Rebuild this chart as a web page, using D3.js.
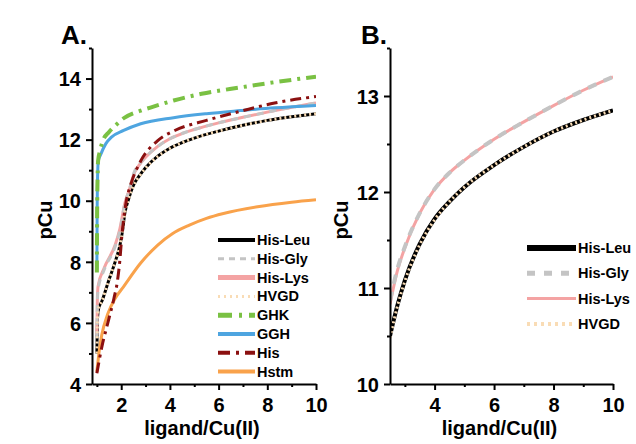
<!DOCTYPE html>
<html>
<head>
<meta charset="utf-8">
<script src="https://cdn.jsdelivr.net/npm/d3@7"></script>
<style>
  body { margin: 0; background: #fff; }
  svg { font-family: "Liberation Sans", Arial, sans-serif; font-weight: bold; }
  .axis path, .axis line { stroke: #000; stroke-width: 2; }
  .axis text { font-size: 20px; font-weight: bold; fill: #000; }
</style>
</head>
<body>
<script>
// pCu vs ligand/Cu(II), points as [ratio, pCu]
const hisLeu = [[1,5.0],[1.03,6.2],[1.08,6.5],[1.2,6.7],[1.45,7.3],[1.75,8.0],[1.95,8.55],[2.05,9.0],[2.15,9.6],[2.3,10.05],[2.5,10.5],[2.75,10.82],[3.0,11.08],[3.5,11.46],[4.0,11.72],[4.5,11.9],[5.0,12.05],[6.0,12.28],[7.0,12.47],[8.0,12.63],[9.0,12.75],[10,12.85]];
const hisGly = [[1,5.5],[1.02,6.6],[1.05,7.1],[1.3,7.74],[1.75,8.5],[1.95,9.05],[2.15,9.9],[2.35,10.4],[2.5,10.87],[2.75,11.2],[3.0,11.43],[3.5,11.78],[4.0,12.03],[4.5,12.2],[5.0,12.33],[6.0,12.55],[7.0,12.73],[8.0,12.9],[9.0,13.06],[10,13.2]];
const hisLys = [[1,5.6],[1.02,6.8],[1.05,7.2],[1.3,7.8],[1.75,8.55],[1.95,9.1],[2.15,9.92],[2.35,10.4],[2.5,10.83],[2.75,11.18],[3.0,11.42],[3.5,11.78],[4.0,12.03],[4.5,12.2],[5.0,12.33],[6.0,12.55],[7.0,12.73],[8.0,12.9],[9.0,13.06],[10,13.2]];
const hvgd = [[1,5.0],[1.03,6.2],[1.08,6.5],[1.2,6.7],[1.45,7.3],[1.75,8.0],[1.95,8.55],[2.05,9.0],[2.15,9.6],[2.3,10.05],[2.5,10.48],[2.75,10.81],[3.0,11.07],[3.5,11.45],[4.0,11.71],[4.5,11.9],[5.0,12.05],[6.0,12.28],[7.0,12.47],[8.0,12.63],[9.0,12.75],[10,12.85]];
const ghk = [[1,7.65],[1.01,9.5],[1.03,10.8],[1.05,11.3],[1.13,11.64],[1.25,11.97],[1.5,12.25],[1.8,12.49],[2.1,12.7],[2.8,12.95],[3.2,13.05],[4.15,13.28],[5.3,13.5],[6.9,13.71],[8.3,13.88],[9.6,14.02],[10,14.06]];
const ggh = [[1,7.75],[1.01,9.5],[1.03,10.8],[1.06,11.31],[1.15,11.5],[1.37,11.87],[1.6,12.08],[2.1,12.3],[2.8,12.52],[4.15,12.72],[5.5,12.85],[6.9,12.95],[8.3,13.04],[10,13.12]];
const his = [[1,4.35],[1.2,5.2],[1.45,6.0],[1.7,6.8],[1.85,7.4],[1.95,8.1],[2.02,8.8],[2.1,9.4],[2.2,9.95],[2.4,10.55],[2.8,11.3],[3.5,11.97],[4.2,12.3],[5.5,12.63],[7,12.95],[8.3,13.2],[10,13.41]];
const hstm = [[1,4.4],[1.1,5.1],[1.2,5.6],[1.45,6.3],[1.75,6.8],[2.1,7.19],[2.8,7.96],[3.5,8.55],[4.1,8.92],[4.8,9.2],[5.5,9.42],[6.2,9.58],[7.6,9.8],[9,9.95],[10,10.03]];

const xTicksA = [2, 4, 6, 8, 10];
const yTicksA = [4, 6, 8, 10, 12, 14];
const xTicksB = [4, 6, 8, 10];
const yTicksB = [10, 11, 12, 13];

const W = 636, H = 444;
const svg = d3.select('body').append('svg').attr('width', W).attr('height', H);

// drawing order: pink under the grey dashes, beige dots over black
const seriesA = [
  {name: 'His-Leu', data: hisLeu, color: '#000000', w: 3, dash: null},
  {name: 'His-Lys', data: hisLys, color: '#f4a3a3', w: 3, dash: null},
  {name: 'His-Gly', data: hisGly, color: '#c4c4c4', w: 3, dash: '7,6'},
  {name: 'HVGD', data: hvgd, color: '#f9dcb5', w: 3, dash: '2,3'},
  {name: 'GGH', data: ggh, color: '#4ea5e0', w: 3, dash: null},
  {name: 'Hstm', data: hstm, color: '#f9a24b', w: 3, dash: null},
  {name: 'His', data: his, color: '#8b1010', w: 3, dash: '11,5,3,5'},
  {name: 'GHK', data: ghk, color: '#7ac143', w: 4, dash: '12,6,3,6'}
];
const legendA = ['His-Leu', 'His-Gly', 'His-Lys', 'HVGD', 'GHK', 'GGH', 'His', 'Hstm'];
const legendStyleA = {
  'His-Leu': {w: 4, dash: null}, 'His-Gly': {w: 3, dash: '6,5'}, 'His-Lys': {w: 5, dash: null},
  'HVGD': {w: 3, dash: '2,4'}, 'GHK': {w: 5, dash: '14,7,3,7'}, 'GGH': {w: 4, dash: null},
  'His': {w: 4, dash: '12,6,3,6'}, 'Hstm': {w: 4, dash: null}
};

const seriesB = [
  {name: 'His-Leu', data: hisLeu, color: '#000000', w: 4, dash: null},
  {name: 'His-Lys', data: hisLys, color: '#f4a3a3', w: 3, dash: null},
  {name: 'His-Gly', data: hisGly, color: '#c4c4c4', w: 4, dash: '9,8'},
  {name: 'HVGD', data: hvgd, color: '#f9dcb5', w: 3, dash: '2,3'}
];
const legendB = ['His-Leu', 'His-Gly', 'His-Lys', 'HVGD'];
const legendStyleB = {
  'His-Leu': {w: 6, dash: null}, 'His-Gly': {w: 5, dash: '8,9'},
  'His-Lys': {w: 3, dash: null}, 'HVGD': {w: 4, dash: '3,4'}
};

function panel(opt) {
  const x = d3.scaleLinear().domain(opt.xDom).range([opt.left, opt.right]);
  const y = d3.scaleLinear().domain(opt.yDom).range([opt.bottom, opt.top]);
  const g = svg.append('g');

  const clipId = 'clip' + opt.label[0];
  g.append('clipPath').attr('id', clipId).append('rect')
    .attr('x', opt.left).attr('y', opt.top)
    .attr('width', opt.right - opt.left).attr('height', opt.bottom - opt.top);

  const line = d3.line().x(d => x(d[0])).y(d => y(d[1])).curve(d3.curveMonotoneX);
  opt.series.forEach(s => {
    g.append('path')
      .datum(s.data.filter(d => d[0] >= opt.xDom[0]))
      .attr('clip-path', 'url(#' + clipId + ')')
      .attr('d', line)
      .attr('fill', 'none')
      .attr('stroke', s.color)
      .attr('stroke-width', s.w)
      .attr('stroke-dasharray', s.dash);
  });

  // minor ticks first, then the major axis on top
  g.append('g').attr('class', 'axis').attr('transform', `translate(0,${opt.bottom})`)
    .call(d3.axisBottom(x).tickValues(opt.xMinor).tickSize(3).tickFormat(''))
    .select('.domain').remove();
  g.append('g').attr('class', 'axis').attr('transform', `translate(${opt.left},0)`)
    .call(d3.axisLeft(y).tickValues(opt.yMinor).tickSize(3).tickFormat(''))
    .select('.domain').remove();

  const fmt = d3.format('d');
  const xa = g.append('g').attr('class', 'axis').attr('transform', `translate(0,${opt.bottom})`)
    .call(d3.axisBottom(x).tickValues(opt.xTicks).tickFormat(fmt).tickSize(6).tickSizeOuter(0).tickPadding(6));
  const ya = g.append('g').attr('class', 'axis').attr('transform', `translate(${opt.left},0)`)
    .call(d3.axisLeft(y).tickValues(opt.yTicks).tickFormat(fmt).tickSize(6).tickSizeOuter(0).tickPadding(5));
  xa.selectAll('text').attr('dy', '0.78em');
  ya.selectAll('text').attr('dy', '0.36em');

  g.append('text').attr('x', opt.labelX).attr('y', 44)
    .attr('font-size', 26).text(opt.label);
  g.append('text').attr('x', (opt.left + opt.right) / 2 - 2).attr('y', 435)
    .attr('text-anchor', 'middle').attr('font-size', 20).text('ligand/Cu(II)');
  g.append('text').attr('transform', `translate(${opt.titleX},220) rotate(-90)`)
    .attr('text-anchor', 'middle').attr('font-size', 20).text('pCu');

  // legend
  const byName = {};
  opt.series.forEach(s => byName[s.name] = s);
  opt.legend.forEach((name, i) => {
    const s = byName[name];
    const st = opt.legendStyle[name];
    const yy = opt.legY + i * opt.legStep;
    g.append('line').attr('x1', opt.legX1).attr('x2', opt.legX2)
      .attr('y1', yy).attr('y2', yy)
      .attr('stroke', s.color).attr('stroke-width', st.w)
      .attr('stroke-dasharray', st.dash);
    g.append('text').attr('x', opt.legX2 + 2).attr('y', yy).attr('dy', '0.35em')
      .attr('font-size', opt.legFont).text(name);
  });
}

panel({
  label: 'A.', labelX: 61, titleX: 52,
  xDom: [0.8, 10], yDom: [4, 15],
  left: 92, right: 316, top: 48, bottom: 384,
  xTicks: xTicksA, yTicks: yTicksA,
  xMinor: [1, 3, 5, 7, 9], yMinor: [5, 7, 9, 11, 13, 15],
  series: seriesA, legend: legendA, legendStyle: legendStyleA,
  legX1: 218, legX2: 255, legY: 240, legStep: 18.8, legFont: 14.5
});

panel({
  label: 'B.', labelX: 361, titleX: 348,
  xDom: [2.5, 10], yDom: [10, 13.5],
  left: 390, right: 613, top: 48, bottom: 384,
  xTicks: xTicksB, yTicks: yTicksB,
  xMinor: [3, 5, 7, 9], yMinor: [10.5, 11.5, 12.5, 13.5],
  series: seriesB, legend: legendB, legendStyle: legendStyleB,
  legX1: 527, legX2: 576, legY: 248, legStep: 25.3, legFont: 14.5
});
</script>
</body>
</html>
